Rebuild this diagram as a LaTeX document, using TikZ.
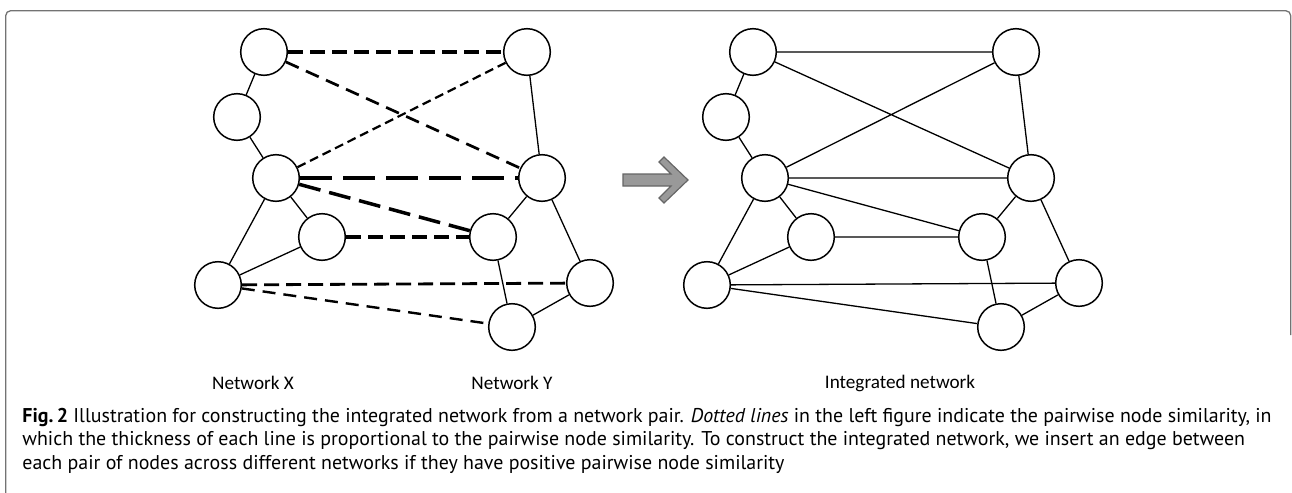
\documentclass[tikz,border=0pt]{standalone}
\usepackage{fontspec}
\setmainfont{PT Sans}
\newfontfamily\labelfont{Carlito}

\begin{document}
\begin{tikzpicture}[x=0.5pt,y=-0.5pt,
  vtx/.style={circle,draw,line width=0.75pt,minimum size=23.3pt,inner sep=0pt},
  edge/.style={line width=0.65pt},
  sim/.style={line width=#1},
  netlabel/.style={font=\labelfont\fontsize{9.6}{11}\selectfont,inner sep=0pt},
  captext/.style={font=\fontsize{9.97}{11.6}\selectfont,align=left,inner sep=0pt,anchor=north west},
  frameline/.style={draw=black!55,line width=0.65pt,rounded corners=2.5pt},
  blockarrow/.style={fill=black!40,draw=black!60,line width=0.6pt,line join=miter}
]
\useasboundingbox (0,0) rectangle (1292,493);

% outer frame
\draw[frameline] (5.7,493) -- (5.7,10.7) -- (1290.7,10.7) -- (1290.7,335);

% ---------- Network X ----------
\node[vtx] (x1) at (264,52) {};
\node[vtx] (x2) at (237,117) {};
\node[vtx] (x3) at (276,178) {};
\node[vtx] (x4) at (322,237) {};
\node[vtx] (x5) at (218,285) {};
% ---------- Network Y ----------
\node[vtx] (y1) at (527,52) {};
\node[vtx] (y2) at (542,178) {};
\node[vtx] (y3) at (493,237) {};
\node[vtx] (y4) at (590,283) {};
\node[vtx] (y5) at (512,327) {};

\draw[edge] (x1) -- (x2) (x2) -- (x3) (x3) -- (x4) (x3) -- (x5) (x4) -- (x5);
\draw[edge] (y1) -- (y2) (y2) -- (y3) (y2) -- (y4) (y3) -- (y5) (y4) -- (y5);

% similarity links, thickness ~ similarity
\draw[sim=1.6pt,dash pattern=on 7.5pt off 3.5pt] (x1) -- (y1);
\draw[sim=1.35pt,dash pattern=on 7pt off 4pt] (x1) -- (y2);
\draw[sim=1.1pt,dash pattern=on 4.5pt off 2.5pt] (x3) -- (y1);
\draw[sim=2.3pt,dash pattern=on 16pt off 5.5pt] (x3) -- (y2);
\draw[sim=1.75pt,dash pattern=on 11pt off 4.5pt] (x3) -- (y3);
\draw[sim=1.65pt,dash pattern=on 7.5pt off 3.5pt] (x4) -- (y3);
\draw[sim=1.4pt,dash pattern=on 7.5pt off 3.5pt] (x5) -- (y4);
\draw[sim=1.2pt,dash pattern=on 6.5pt off 4pt] (x5) -- (y5);

% ---------- block arrow ----------
\draw[blockarrow] (623,174) -- (671,174) -- (659,162) -- (664,157) -- (688,180)
  -- (664,203) -- (659,198) -- (671,186) -- (623,186) -- cycle;

% ---------- Integrated network ----------
\node[vtx] (i1) at (753,52) {};
\node[vtx] (i2) at (726,117) {};
\node[vtx] (i3) at (765,178) {};
\node[vtx] (i4) at (811,237) {};
\node[vtx] (i5) at (707,285) {};
\node[vtx] (j1) at (1016,52) {};
\node[vtx] (j2) at (1031,178) {};
\node[vtx] (j3) at (982,237) {};
\node[vtx] (j4) at (1079,283) {};
\node[vtx] (j5) at (1001,327) {};

\draw[edge] (i1) -- (i2) (i2) -- (i3) (i3) -- (i4) (i3) -- (i5) (i4) -- (i5);
\draw[edge] (j1) -- (j2) (j2) -- (j3) (j2) -- (j4) (j3) -- (j5) (j4) -- (j5);
\draw[edge] (i1) -- (j1) (i1) -- (j2) (i3) -- (j1) (i3) -- (j2) (i3) -- (j3)
  (i4) -- (j3) (i5) -- (j4) (i5) -- (j5);

% ---------- labels ----------
\node[netlabel] (lx) at (253,383) {Network X};
\node[netlabel] (ly) at (512,383) {Network Y};
\node[netlabel] (li) at (900,383) {Integrated network};

% ---------- caption ----------
\node[captext] (cap) at (22,408) {\textbf{Fig.\,2} Illustration for constructing the integrated network from a network pair. \textit{Dotted lines} in the left figure indicate the pairwise node similarity, in\\
which the thickness of each line is proportional to the pairwise node similarity. To construct the integrated network, we insert an edge between\\
each pair of nodes across different networks if they have positive pairwise node similarity};
\end{tikzpicture}
\end{document}
